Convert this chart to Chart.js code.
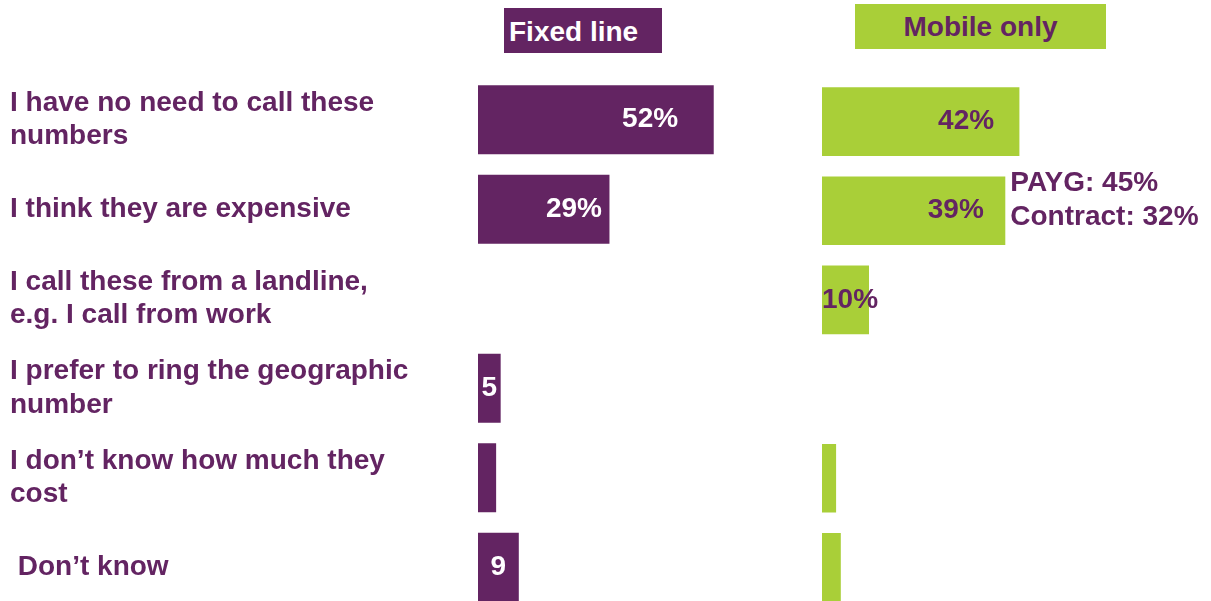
<!DOCTYPE html>
<html>
<head>
<meta charset="utf-8">
<title>Reasons for not calling these numbers</title>
<script src="https://cdn.jsdelivr.net/npm/chart.js@4/dist/chart.umd.min.js"></script>
<style>
  body { margin: 0; background: #fff; overflow: hidden; font-family: "Liberation Sans", Arial, sans-serif; }
  #wrap { position: relative; width: 1211px; height: 601px; overflow: hidden; }
  canvas { position: absolute; top: 0; }
  #fixed { left: 0; }
  #mobile { left: 822px; }
  .head { position: absolute; box-sizing: border-box; height: 45px; line-height: 45px; font-size: 28px; font-weight: bold; white-space: nowrap; }
  #headFixed { left: 504px; top: 8px; width: 158px; padding: 2px 0 0 5px; line-height: 43px; background: #632462; color: #fff; }
  #headMobile { left: 855px; top: 4px; width: 251px; text-align: center; background: #a9cf38; color: #632462; }
</style>
</head>
<body>
<div id="wrap">
  <!-- fixed canvas is taller than the page: the axis reserves half a label below the last row -->
  <canvas id="fixed" width="750" height="646"></canvas>
  <canvas id="mobile" width="389" height="612"></canvas>
  <div class="head" id="headFixed">Fixed line</div>
  <div class="head" id="headMobile">Mobile only</div>
</div>
<script>
var PURPLE = '#632462';
var GREEN = '#a9cf38';
var FONT = '"Liberation Sans", Arial, sans-serif';

// reasons, top to bottom
var categories = [
  ['I have no need to call these', 'numbers'],
  'I think they are expensive',
  ['I call these from a landline,', 'e.g. I call from work'],
  ['I prefer to ring the geographic', 'number'],
  ['I don\u2019t know how much they', 'cost'],
  ' Don\u2019t know'
];

var fixedValues = [52, 29, null, 5, 4, 9];
var fixedLabels = ['52%', '29%', '', '5', '', '9'];

var mobileValues = [42, 39, 10, null, 3, 4];
var mobileLabels = ['42%', '39%', '10%', '', '', ''];

// split shown beside the "expensive" mobile bar
var mobileNote = ['PAYG: 45%', 'Contract: 32%'];
var noteRow = 1;

Chart.defaults.font.family = FONT;

// value text inside the bars, plus the optional side note
var barLabels = {
  id: 'barLabels',
  afterDatasetsDraw: function(chart, args, opts) {
    var ctx = chart.ctx;
    var meta = chart.getDatasetMeta(0);
    ctx.save();
    ctx.font = 'bold 28px ' + FONT;
    ctx.fillStyle = opts.color;
    ctx.textAlign = 'center';
    ctx.textBaseline = 'middle';
    meta.data.forEach(function(bar, i) {
      var txt = opts.labels[i];
      if (!txt) return;
      var w = bar.x - bar.base;
      var tw = ctx.measureText(txt).width;
      var cx;
      if (w > 100) cx = bar.base + w * 0.73;
      else cx = Math.max(bar.base + w / 2, bar.base + tw / 2);
      ctx.fillText(txt, cx, bar.y);
    });
    if (opts.note) {
      var b = meta.data[opts.noteRow];
      ctx.textAlign = 'left';
      ctx.fillStyle = PURPLE;
      ctx.fillText(opts.note[0], b.x + 5, b.y - 27);
      ctx.fillText(opts.note[1], b.x + 5, b.y + 6.5);
    }
    ctx.restore();
  }
};

var fixedChart = new Chart(document.getElementById('fixed'), {
  type: 'bar',
  data: {
    labels: categories,
    datasets: [{
      data: fixedValues,
      backgroundColor: PURPLE,
      barPercentage: 0.77,
      categoryPercentage: 1
    }]
  },
  options: {
    indexAxis: 'y',
    responsive: false,
    animation: false,
    layout: { padding: { left: 10, top: 75, right: 0, bottom: 34 } },
    scales: {
      x: { display: false, min: 0, max: 60 },
      y: {
        grid: { display: false },
        border: { display: false },
        ticks: {
          crossAlign: 'far',
          color: PURPLE,
          padding: 0,
          font: { size: 28, weight: 'bold' }
        },
        afterFit: function(axis) { axis.width = 468; }
      }
    },
    plugins: {
      legend: { display: false },
      tooltip: { enabled: false },
      barLabels: { color: '#fff', labels: fixedLabels }
    }
  },
  plugins: [barLabels]
});

var mobileChart = new Chart(document.getElementById('mobile'), {
  type: 'bar',
  data: {
    labels: categories,
    datasets: [{
      data: mobileValues,
      backgroundColor: GREEN,
      barPercentage: 0.77,
      categoryPercentage: 1
    }]
  },
  options: {
    indexAxis: 'y',
    responsive: false,
    animation: false,
    layout: { padding: { left: 0, top: 77, right: 107, bottom: 0 } },
    scales: {
      x: { display: false, min: 0, max: 60 },
      y: { display: false }
    },
    plugins: {
      legend: { display: false },
      tooltip: { enabled: false },
      barLabels: { color: PURPLE, labels: mobileLabels, note: mobileNote, noteRow: noteRow }
    }
  },
  plugins: [barLabels]
});
</script>
</body>
</html>
